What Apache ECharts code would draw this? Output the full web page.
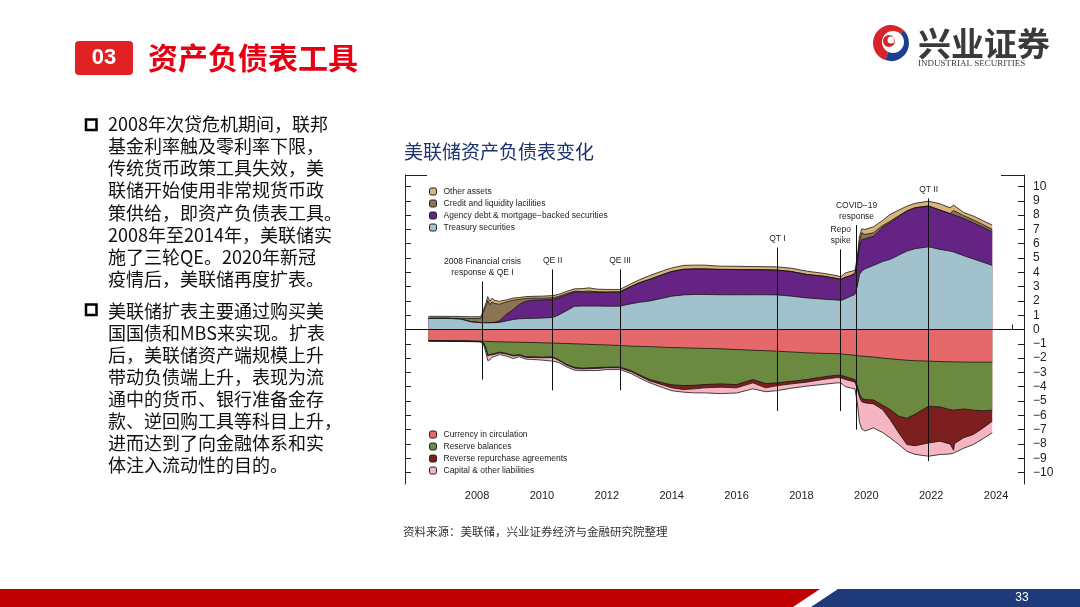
<!DOCTYPE html>
<html>
<head>
    <meta charset="utf-8"/>
    <title>美联储资产负债表变化</title>
    <script src="https://cdn.jsdelivr.net/npm/echarts@6/dist/echarts.min.js"></script>
    <style>
        html, body { margin: 0; padding: 0; background: #fff; }
        #main { width: 1080px; height: 607px; }
    </style>
</head>
<body>
<div id="main"></div>
<script type="text/javascript">
    // 时间（年，小数）
    var dates = [2007.00, 2007.50, 2008.00, 2008.30, 2008.62, 2008.70, 2008.78, 2008.83, 2008.90, 2008.96,
        2009.05, 2009.20, 2009.40, 2009.62, 2009.80, 2010.00, 2010.25, 2010.50, 2010.83, 2011.00,
        2011.25, 2011.50, 2011.75, 2011.95, 2012.20, 2012.50, 2012.90, 2013.25, 2013.50, 2013.83,
        2014.25, 2014.50, 2014.86, 2015.20, 2015.50, 2016.00, 2016.50, 2017.00, 2017.40, 2017.76,
        2018.20, 2018.66, 2019.20, 2019.60, 2019.71, 2019.85, 2020.00, 2020.15, 2020.22, 2020.29,
        2020.36, 2020.46, 2020.72, 2021.00, 2021.23, 2021.50, 2021.75, 2022.00, 2022.42, 2022.77,
        2023.08, 2023.19, 2023.22, 2023.50, 2023.80, 2024.10, 2024.38];

    // 资产端（万亿美元）
    var treasury = [0.78, 0.79, 0.74, 0.55, 0.48, 0.48, 0.48, 0.48, 0.48, 0.48,
        0.48, 0.50, 0.60, 0.70, 0.75, 0.77, 0.78, 0.80, 0.84, 1.00,
        1.30, 1.62, 1.64, 1.64, 1.64, 1.63, 1.63, 1.80, 1.90, 2.00,
        2.20, 2.33, 2.42, 2.45, 2.45, 2.43, 2.43, 2.43, 2.43, 2.42,
        2.33, 2.21, 2.12, 2.06, 2.03, 2.15, 2.30, 2.45, 3.00, 3.85,
        4.08, 4.24, 4.48, 4.75, 4.90, 5.20, 5.48, 5.65, 5.78, 5.60,
        5.48, 5.42, 5.40, 5.16, 4.93, 4.70, 4.48];
    var agency = [0, 0, 0, 0, 0, 0, 0, 0, 0, 0,
        0.03, 0.12, 0.45, 0.70, 1.00, 1.20, 1.27, 1.27, 1.26, 1.20,
        1.12, 1.00, 0.97, 0.95, 0.95, 0.96, 0.98, 1.20, 1.35, 1.50,
        1.65, 1.72, 1.78, 1.78, 1.78, 1.77, 1.76, 1.75, 1.74, 1.73,
        1.72, 1.64, 1.60, 1.50, 1.47, 1.50, 1.45, 1.47, 1.60, 1.98,
        2.21, 2.10, 2.04, 2.40, 2.56, 2.70, 2.79, 2.85, 2.84, 2.74,
        2.62, 2.60, 2.60, 2.60, 2.53, 2.45, 2.36];
    var credit = [0.01, 0.01, 0.05, 0.22, 0.30, 0.75, 1.20, 1.55, 1.25, 1.45,
        1.30, 1.15, 0.88, 0.65, 0.35, 0.20, 0.15, 0.12, 0.12, 0.10,
        0.08, 0.06, 0.05, 0.10, 0.05, 0.04, 0.03, 0.02, 0.02, 0.02,
        0.02, 0.01, 0.01, 0.01, 0.01, 0, 0, 0, 0, 0,
        0, 0, 0, 0, 0, 0, 0, 0, 0.10, 0.35,
        0.47, 0.30, 0.24, 0.12, 0.10, 0.05, 0.03, 0.02, 0.02, 0.01,
        0.01, 0.30, 0.28, 0.20, 0.20, 0.18, 0.16];
    var otherAssets = [0.13, 0.12, 0.12, 0.12, 0.12, 0.15, 0.20, 0.27, 0.25, 0.25,
        0.22, 0.20, 0.14, 0.15, 0.13, 0.13, 0.12, 0.14, 0.15, 0.15,
        0.15, 0.16, 0.20, 0.22, 0.18, 0.17, 0.16, 0.18, 0.20, 0.26,
        0.25, 0.24, 0.27, 0.26, 0.26, 0.23, 0.23, 0.22, 0.22, 0.23,
        0.23, 0.23, 0.20, 0.20, 0.18, 0.30, 0.30, 0.21, 0.35, 0.34,
        0.28, 0.35, 0.42, 0.35, 0.48, 0.40, 0.32, 0.30, 0.33, 0.44,
        0.40, 0.38, 0.37, 0.22, 0.27, 0.27, 0.30];

    // 负债端（万亿美元，向下）
    var currency = [-0.77, -0.78, -0.79, -0.80, -0.82, -0.82, -0.83, -0.83, -0.84, -0.84,
        -0.85, -0.86, -0.87, -0.88, -0.89, -0.90, -0.91, -0.93, -0.95, -0.96,
        -0.98, -1.00, -1.02, -1.04, -1.06, -1.08, -1.12, -1.16, -1.18, -1.20,
        -1.24, -1.26, -1.28, -1.30, -1.32, -1.35, -1.40, -1.45, -1.48, -1.52,
        -1.57, -1.63, -1.67, -1.69, -1.70, -1.74, -1.77, -1.80, -1.82, -1.84,
        -1.86, -1.88, -1.92, -2.00, -2.05, -2.10, -2.15, -2.18, -2.21, -2.24,
        -2.26, -2.26, -2.27, -2.28, -2.28, -2.28, -2.28];
    var reserves = [-0.01, -0.01, -0.01, -0.01, -0.01, -0.10, -0.50, -0.95, -0.90, -0.80,
        -0.83, -0.72, -0.80, -0.93, -0.86, -1.00, -1.00, -1.00, -0.96, -1.13,
        -1.45, -1.64, -1.68, -1.64, -1.60, -1.55, -1.50, -1.72, -1.98, -2.30,
        -2.50, -2.60, -2.64, -2.60, -2.53, -2.45, -2.45, -2.05, -2.30, -2.21,
        -2.05, -1.87, -1.63, -1.50, -1.50, -1.55, -1.63, -1.70, -2.10, -2.66,
        -2.94, -3.02, -3.00, -3.30, -3.54, -3.96, -4.05, -3.75, -3.15, -3.17,
        -3.34, -3.38, -3.35, -3.27, -3.36, -3.40, -3.36];
    var reverseRepo = [-0.02, -0.02, -0.02, -0.02, -0.02, -0.04, -0.05, -0.05, -0.05, -0.05,
        -0.05, -0.05, -0.05, -0.05, -0.05, -0.05, -0.05, -0.05, -0.05, -0.05,
        -0.05, -0.06, -0.06, -0.06, -0.06, -0.05, -0.06, -0.07, -0.08, -0.10,
        -0.15, -0.22, -0.28, -0.25, -0.23, -0.23, -0.23, -0.23, -0.30, -0.19,
        -0.18, -0.18, -0.18, -0.17, -0.18, -0.20, -0.18, -0.18, -0.20, -0.25,
        -0.25, -0.23, -0.28, -0.30, -0.70, -1.17, -1.84, -2.20, -2.57, -2.40,
        -2.40, -2.80, -2.35, -2.02, -1.70, -1.20, -0.77];
    var capital = [-0.02, -0.02, -0.02, -0.02, -0.02, -0.06, -0.30, -0.34, -0.33, -0.25,
        -0.15, -0.12, -0.14, -0.17, -0.10, -0.12, -0.14, -0.16, -0.25, -0.15,
        -0.12, -0.14, -0.12, -0.13, -0.15, -0.12, -0.12, -0.13, -0.14, -0.13,
        -0.19, -0.20, -0.18, -0.28, -0.35, -0.45, -0.36, -0.42, -0.27, -0.35,
        -0.30, -0.28, -0.35, -0.37, -0.35, -0.50, -0.50, -0.47, -1.00, -1.75,
        -1.90, -1.97, -1.68, -1.60, -1.28, -0.81, -0.47, -0.60, -0.93, -0.93,
        -0.70, -0.20, -0.65, -0.73, -0.70, -0.75, -0.81];

    // 坐标轴刻度
    var yearTicks = [2007, 2008, 2009, 2010, 2011, 2012, 2013, 2014, 2015, 2016,
        2017, 2018, 2019, 2020, 2021, 2022, 2023, 2024, 2025];
    var yearLabels = [2008, 2010, 2012, 2014, 2016, 2018, 2020, 2022, 2024];
    var yTicks = [-10, -9, -8, -7, -6, -5, -4, -3, -2, -1, 0, 1, 2, 3, 4, 5, 6, 7, 8, 9, 10];

    // 事件标注
    var eventNames = ['2008 Financial crisis\nresponse & QE I', 'QE II', 'QE III', 'QT I',
        'Repo\nspike', 'COVID\u221219\nresponse', 'QT II'];
    var eventDates = [2008.67, 2010.83, 2012.91, 2017.76, 2019.71, 2020.20, 2022.42];
    var eventTop = [3.36, 4.2, 4.2, 5.73, 5.6, 7.3, 9.16];
    var eventBottom = [-3.5, -4.25, -4.25, -5.7, -5.7, -7.0, -9.2];

    var LATIN = '"Liberation Sans", Arial, sans-serif';
    var CJK = '"Noto Sans CJK SC", sans-serif';

    // 逐层累加（值轴对值轴时 ECharts 的 stack 会去累加 x，这里自己算边界）
    function cumulate(layers) {
        var out = [];
        layers.forEach(function (vals, k) {
            out.push(vals.map(function (v, i) { return (k ? out[k - 1][i] : 0) + v; }));
        });
        return out;
    }

    function area(name, values, color) {
        return {
            name: name,
            type: 'line',
            data: dates.map(function (d, i) { return [d, +values[i].toFixed(3)]; }),
            symbol: 'none',
            showSymbol: false,
            silent: true,
            lineStyle: {color: '#151515', width: 0.8},
            itemStyle: {color: color},
            areaStyle: {color: color, opacity: 1},
            emphasis: {disabled: true}
        };
    }

    var assetNames = ['Treasury securities', 'Agency debt & mortgage\u2212backed securities',
        'Credit and liquidity lacilities', 'Other assets'];
    var assetColors = ['#a1c1cd', '#652483', '#8a7452', '#d9b27c'];
    var liabNames = ['Currency in circulation', 'Reserve balances',
        'Reverse repurchase agreements', 'Capital & other liabilities'];
    var liabColors = ['#e5686a', '#6b8a3f', '#7d1f1f', '#f5b5c1'];

    var assetCum = cumulate([treasury, agency, credit, otherAssets]);
    var liabCum = cumulate([currency, reserves, reverseRepo, capital]);

    // 外层先画，内层盖在上面
    var series = [];
    for (var k = 3; k >= 0; k--) {
        series.push(area(assetNames[k], assetCum[k], assetColors[k]));
        series.push(area(liabNames[k], liabCum[k], liabColors[k]));
    }

    var minus = function (v) { return v < 0 ? '\u2212' + Math.abs(v) : String(v); };

    var markData = [{yAxis: 0, label: {show: false}}];
    eventNames.forEach(function (n, i) {
        markData.push([{name: n, coord: [eventDates[i], eventTop[i]]}, {coord: [eventDates[i], eventBottom[i]]}]);
    });
    series[series.length - 1].markLine = {
        silent: true,
        symbol: 'none',
        animation: false,
        lineStyle: {color: '#111', width: 1, type: 'solid'},
        label: {
            show: true, position: 'start', formatter: '{b}', distance: 3,
            fontSize: 8.5, lineHeight: 11, color: '#222', fontFamily: LATIN
        },
        data: markData
    };

    var legendCommon = {
        orient: 'vertical',
        left: 424,
        icon: 'roundRect',
        itemWidth: 7,
        itemHeight: 7,
        itemGap: 3,
        selectedMode: false,
        itemStyle: {borderColor: '#222', borderWidth: 1},
        textStyle: {fontSize: 8.5, color: '#222', fontFamily: LATIN, padding: [0, 0, 0, 2]}
    };

    var option = {
        animation: false,
        backgroundColor: '#fff',
        grid: {left: 405, right: 56, top: 175, bottom: 123},
        legend: [
            Object.assign({}, legendCommon, {top: 182, data: assetNames.slice().reverse()}),
            Object.assign({}, legendCommon, {top: 425, data: liabNames.slice()})
        ],
        xAxis: {
            type: 'value',
            min: 2006.28,
            max: 2025.36,
            splitLine: {show: false},
            axisLine: {show: true, lineStyle: {color: '#222', width: 1}},
            axisTick: {show: true, inside: true, length: 5, customValues: yearTicks, lineStyle: {color: '#222'}},
            axisLabel: {
                customValues: yearLabels.map(function (y) { return y + 0.5; }),
                formatter: function (v) { return String(Math.floor(v)); },
                fontSize: 11, color: '#222', margin: 6, fontFamily: LATIN
            }
        },
        yAxis: [{
            type: 'value',
            position: 'left',
            min: -10.8,
            max: 10.8,
            splitLine: {show: false},
            axisLine: {show: true, lineStyle: {color: '#222', width: 1}},
            axisTick: {show: true, inside: true, length: 6, customValues: yTicks, lineStyle: {color: '#222'}},
            axisLabel: {show: false}
        }, {
            type: 'value',
            position: 'right',
            min: -10.8,
            max: 10.8,
            splitLine: {show: false},
            axisLine: {show: true, lineStyle: {color: '#222', width: 1}},
            axisTick: {show: true, inside: true, length: 6, customValues: yTicks, lineStyle: {color: '#222'}},
            axisLabel: {
                customValues: yTicks, formatter: minus, align: 'left',
                fontSize: 12, color: '#222', margin: 9, fontFamily: LATIN
            }
        }],
        series: series,
        graphic: [
            // 标题栏
            {type: 'rect', shape: {x: 75, y: 41, width: 58, height: 34, r: 4}, style: {fill: '#e02225'}},
            {type: 'text', x: 104, y: 58, style: {text: '03', fill: '#fff', fontSize: 22, fontWeight: 'bold', fontFamily: LATIN, align: 'center', verticalAlign: 'middle'}},
            {type: 'text', x: 148, y: 58, style: {text: '资产负债表工具', fill: '#e60012', fontSize: 30, fontWeight: 'bold', fontFamily: CJK, verticalAlign: 'middle'}},
            // 公司标识
            {type: 'sector', shape: {cx: 891, cy: 43, r: 18, r0: 0, startAngle: Math.PI * 0.6, endAngle: Math.PI * 1.75}, style: {fill: '#d7242a'}},
            {type: 'sector', shape: {cx: 891, cy: 43, r: 18, r0: 0, startAngle: -Math.PI * 0.25, endAngle: Math.PI * 0.6}, style: {fill: '#1d3f8f'}},
            {type: 'circle', shape: {cx: 893, cy: 42, r: 11}, style: {fill: '#fff'}},
            {type: 'circle', shape: {cx: 889, cy: 41, r: 6}, style: {fill: '#d7242a'}},
            {type: 'circle', shape: {cx: 891, cy: 40, r: 3.5}, style: {fill: '#fff'}},
            {type: 'text', x: 918, y: 43, style: {text: '兴业证券', fill: '#3a3a3a', fontSize: 33, fontWeight: 'bold', fontFamily: CJK, verticalAlign: 'middle'}},
            {type: 'text', x: 918, y: 64, style: {text: 'INDUSTRIAL SECURITIES', fill: '#3a3a3a', fontSize: 9, fontFamily: '"Liberation Serif", serif', verticalAlign: 'middle'}},
            // 左侧文字
            {type: 'rect', shape: {x: 86, y: 119.5, width: 10.5, height: 10.5}, style: {fill: 'none', stroke: '#000', lineWidth: 2.5}},
            {type: 'text', x: 108, y: 113.3, style: {
                text: '2008年次贷危机期间，联邦\n基金利率触及零利率下限，\n传统货币政策工具失效，美\n联储开始使用非常规货币政\n策供给，即资产负债表工具。\n2008年至2014年，美联储实\n施了三轮QE。2020年新冠\n疫情后，美联储再度扩表。',
                fill: '#111', fontSize: 18, lineHeight: 22.1, fontFamily: CJK, verticalAlign: 'top'}},
            {type: 'rect', shape: {x: 86, y: 304.5, width: 10.5, height: 10.5}, style: {fill: 'none', stroke: '#000', lineWidth: 2.5}},
            {type: 'text', x: 108, y: 299.7, style: {
                text: '美联储扩表主要通过购买美\n国国债和MBS来实现。扩表\n后，美联储资产端规模上升\n带动负债端上升，表现为流\n通中的货币、银行准备金存\n款、逆回购工具等科目上升，\n进而达到了向金融体系和实\n体注入流动性的目的。',
                fill: '#111', fontSize: 18, lineHeight: 22.1, fontFamily: CJK, verticalAlign: 'top'}},
            // 图表标题
            {type: 'text', x: 404, y: 152, style: {text: '美联储资产负债表变化', fill: '#1c3370', fontSize: 19, fontFamily: CJK, verticalAlign: 'middle'}},
            // 图框上方短线
            {type: 'line', shape: {x1: 405, y1: 175.5, x2: 427, y2: 175.5}, style: {stroke: '#222', lineWidth: 1}},
            {type: 'line', shape: {x1: 1001, y1: 175.5, x2: 1024, y2: 175.5}, style: {stroke: '#222', lineWidth: 1}},
            // 资料来源
            {type: 'text', x: 403, y: 532, style: {text: '资料来源：美联储，兴业证券经济与金融研究院整理', fill: '#333', fontSize: 11.5, fontFamily: CJK, verticalAlign: 'middle'}},
            // 底部色带
            {type: 'polygon', shape: {points: [[0, 589], [820, 589], [793, 607], [0, 607]]}, style: {fill: '#c00000'}},
            {type: 'polygon', shape: {points: [[838, 589], [1080, 589], [1080, 607], [811, 607]]}, style: {fill: '#1f3a7a'}},
            {type: 'text', x: 1022, y: 598, style: {text: '33', fill: '#fff', fontSize: 12, fontFamily: LATIN, align: 'center', verticalAlign: 'middle'}}
        ]
    };

    var myChart = echarts.init(document.getElementById('main'));
    myChart.setOption(option);
</script>
</body>
</html>
